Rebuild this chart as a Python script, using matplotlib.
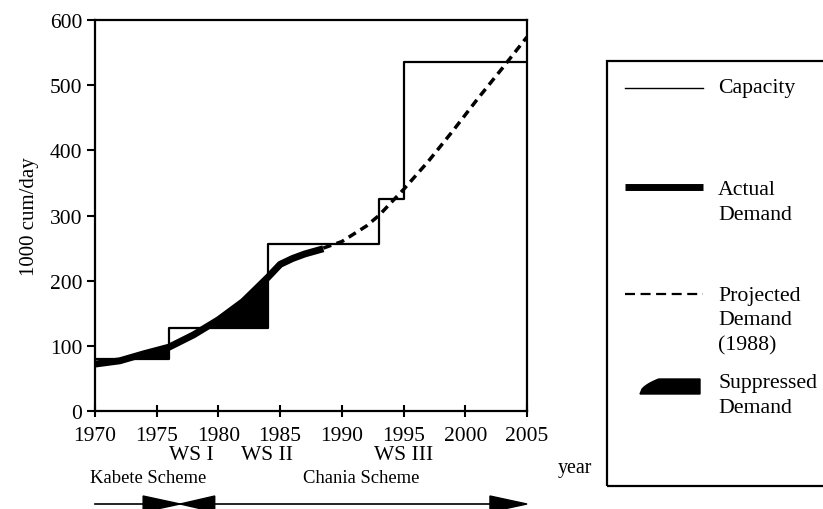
import matplotlib
matplotlib.use("Agg")
import matplotlib.pyplot as plt
import matplotlib.transforms as mtransforms
from matplotlib.patches import Polygon, Rectangle
import numpy as np

plt.rcParams['font.family'] = ['Liberation Serif', 'DejaVu Serif']

W, H = 823, 510

# capacity steps (1000 cum/day)
cap_years = [1970, 1976, 1984, 1993, 1995, 2005]
cap_values = [80, 127, 257, 325, 535, 535]

# actual demand
demand_years = [1970, 1972, 1974, 1976, 1978, 1980, 1982, 1984, 1985, 1986, 1987, 1988.5]
demand_values = [72, 77, 88, 98, 117, 140, 168, 205, 225, 234, 241, 249]

# projected demand (1988)
proj_years = [1988.5, 1990, 1992, 1993, 1995, 1997, 1999, 2001, 2003, 2005]
proj_values = [250, 260, 284, 300, 340, 383, 430, 479, 526, 574]

x_ticks = [1970, 1975, 1980, 1985, 1990, 1995, 2000, 2005]
y_ticks = [0, 100, 200, 300, 400, 500, 600]

schemes = ["WS I", "WS II", "WS III"]
scheme_years = [1977.8, 1983.9, 1995.0]


def fx(px):
    return px / W


def fy(py):
    return 1 - py / H


fig = plt.figure(figsize=(W / 100, H / 100), dpi=100)
ax = fig.add_axes([fx(95), fy(412), fx(527) - fx(95), fy(21) - fy(412)])

ax.step(cap_years, cap_values, where='post', color='black', lw=1.6)
ax.plot(demand_years, demand_values, color='black', lw=5, solid_capstyle='butt')
ax.plot(proj_years, proj_values, color='black', lw=2.5, dashes=(2.4, 1.6))

# suppressed demand: demand above installed capacity
xs = np.linspace(1970, 1984, 700)
dd = np.interp(xs, demand_years, demand_values)
cc = np.array(cap_values)[np.searchsorted(cap_years, xs, side='right') - 1]
ax.fill_between(xs, cc, dd, where=dd > cc, interpolate=True, color='black', lw=0)

ax.set_xlim(1970, 2005)
ax.set_ylim(0, 600)
ax.set_xticks(x_ticks)
ax.set_yticks(y_ticks)
ax.tick_params(axis='x', direction='inout', length=8, width=1.5, labelsize=15.5, pad=7)
ax.tick_params(axis='y', direction='out', length=6, width=1.5, labelsize=15.5, pad=3)
for s in ax.spines.values():
    s.set_linewidth(1.6)
ax.set_ylabel("1000 cum/day", fontsize=15, labelpad=8)

# labels under the axis
bt = mtransforms.blended_transform_factory(ax.transData, fig.transFigure)
for name, yr in zip(schemes, scheme_years):
    ax.text(yr, fy(455), name, transform=bt, ha='center', va='center', fontsize=15.5)
ax.text(1974.3, fy(479), "Kabete Scheme", transform=bt, ha='center', va='center', fontsize=13.4)
ax.text(1991.6, fy(479), "Chania Scheme", transform=bt, ha='center', va='center', fontsize=13.4)
fig.text(fx(558), fy(469), "year", ha='left', va='center', fontsize=14.4)

# scheme arrows
ya = fy(505)
hh = 8 / H
ax.plot([1970, 2002], [ya, ya], transform=bt, color='black', lw=1.2, clip_on=False)
for tri in ([(1973.9, ya - hh), (1973.9, ya + hh), (1976.9, ya)],
            [(1979.7, ya - hh), (1979.7, ya + hh), (1976.9, ya)],
            [(2002.0, ya - hh), (2002.0, ya + hh), (2005.0, ya)]):
    ax.add_patch(Polygon(tri, closed=True, transform=bt, color='black', clip_on=False))

# legend box
fig.patches.append(Rectangle((fx(607), fy(487)), fx(840) - fx(607), fy(62) - fy(487),
                             transform=fig.transFigure, fill=False, lw=1.6, ec='black'))
lx0, lx1, tx = fx(625), fx(703), fx(718)
fig.lines.append(plt.Line2D([lx0, lx1], [fy(89), fy(89)], transform=fig.transFigure, color='black', lw=1.0))
fig.text(tx, fy(89), "Capacity", ha='left', va='center', fontsize=15.7)
fig.lines.append(plt.Line2D([lx0, lx1], [fy(188), fy(188)], transform=fig.transFigure, color='black', lw=5,
                            solid_capstyle='butt'))
fig.text(tx, fy(203), "Actual\nDemand", ha='left', va='center', fontsize=15.7, linespacing=1.4)
fig.lines.append(plt.Line2D([lx0, lx1], [fy(295), fy(295)], transform=fig.transFigure, color='black', lw=1.6,
                            dashes=(4.5, 2.5)))
fig.text(tx, fy(321), "Projected\nDemand\n(1988)", ha='left', va='center', fontsize=15.7, linespacing=1.4)
# suppressed demand glyph
sx = np.linspace(0, 1, 30)
top = [(fx(640 + 60 * t), fy(395 - 15 * min(1.0, np.sqrt(t * 3.2)))) for t in sx]
shape = top + [(fx(700), fy(395)), (fx(640), fy(395))]
fig.patches.append(Polygon(shape, closed=True, transform=fig.transFigure, color='black'))
fig.text(tx, fy(396), "Suppressed\nDemand", ha='left', va='center', fontsize=15.7, linespacing=1.4)

fig.savefig("out.png", dpi=100)
